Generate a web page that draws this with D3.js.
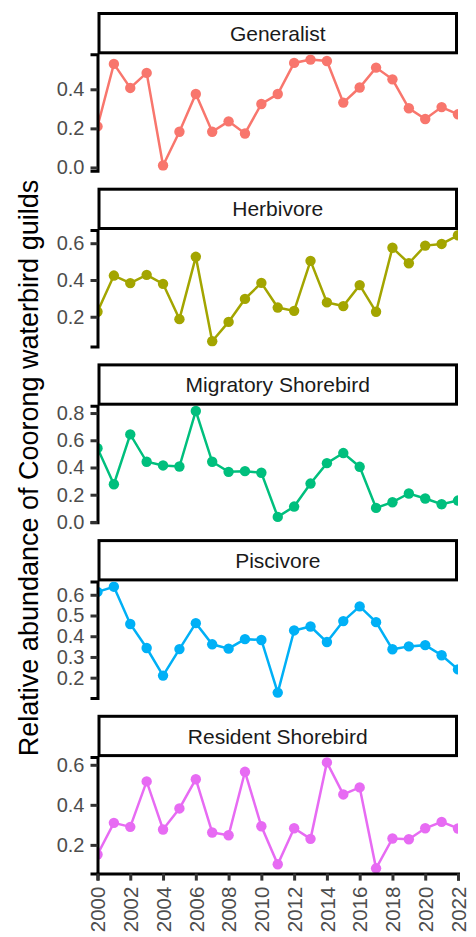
<!DOCTYPE html>
<html>
<head>
<meta charset="utf-8">
<script src="https://cdn.jsdelivr.net/npm/d3@7.9.0/dist/d3.min.js"></script>
<style>
  html, body { margin: 0; padding: 0; background: #fff; }
  svg { display: block; font-family: "Liberation Sans", Arial, Helvetica, sans-serif; }
</style>
</head>
<body>
<div id="chart"></div>
<script>
const years = d3.range(2000, 2023);
const guilds = ['Generalist', 'Herbivore', 'Migratory Shorebird', 'Piscivore', 'Resident Shorebird'];
const colors = ['#F8766D', '#A3A500', '#00BF7D', '#00B0F6', '#E76BF3'];

const generalist = [0.210, 0.530, 0.407, 0.484, 0.010, 0.183, 0.376, 0.183, 0.236, 0.174, 0.325, 0.376,
                    0.535, 0.552, 0.545, 0.332, 0.409, 0.511, 0.451, 0.303, 0.248, 0.309, 0.272];
const herbivore = [0.227, 0.424, 0.383, 0.428, 0.379, 0.187, 0.526, 0.067, 0.172, 0.297, 0.384, 0.250,
                   0.232, 0.504, 0.278, 0.258, 0.372, 0.227, 0.575, 0.491, 0.587, 0.596, 0.643];
const migratory = [0.542, 0.277, 0.643, 0.442, 0.415, 0.407, 0.815, 0.442, 0.368, 0.373, 0.361, 0.037,
                   0.113, 0.282, 0.432, 0.506, 0.405, 0.103, 0.145, 0.209, 0.172, 0.130, 0.157];
const piscivore = [0.614, 0.639, 0.459, 0.343, 0.210, 0.338, 0.463, 0.361, 0.340, 0.386, 0.382, 0.128,
                   0.428, 0.447, 0.372, 0.473, 0.544, 0.468, 0.337, 0.351, 0.357, 0.308, 0.240];
const resident = [0.152, 0.310, 0.290, 0.517, 0.277, 0.382, 0.528, 0.262, 0.248, 0.565, 0.293, 0.103,
                  0.283, 0.230, 0.612, 0.452, 0.487, 0.083, 0.232, 0.228, 0.283, 0.315, 0.282];
const series = [generalist, herbivore, migratory, piscivore, resident];

const yTicks = [
  [0, 0.2, 0.4],
  [0.2, 0.4, 0.6],
  [0, 0.2, 0.4, 0.6, 0.8],
  [0.2, 0.3, 0.4, 0.5, 0.6],
  [0.2, 0.4, 0.6]
];
const xTicks = d3.range(2000, 2023, 2);
const yTitle = 'Relative abundance of Coorong waterbird guilds';

const W = 476, H = 937;
const left = 97.5, right = 458;
const top0 = 12, pitch = 175.7, stripH = 42.3, panelH = 116.5;
const font = '"Liberation Sans", Arial, sans-serif';

const svg = d3.select('#chart').append('svg')
  .attr('width', W).attr('height', H);

const x = d3.scaleLinear().domain([2000, 2022]).range([left, right]);

guilds.forEach((name, i) => {
  const vals = series[i];
  const data = years.map((yr, j) => ({ year: yr, value: vals[j] }));
  const st = top0 + i * pitch;
  const pTop = st + stripH, pBot = pTop + panelH;

  // ggplot-style 5% expansion on y
  const [lo, hi] = d3.extent(vals);
  const pad = (hi - lo) * 0.05;
  const y = d3.scaleLinear().domain([lo - pad, hi + pad]).range([pBot, pTop]);

  // strip
  svg.append('rect')
    .attr('x', left + 1.5).attr('y', st + 1.5)
    .attr('width', right - left - 3).attr('height', stripH - 3)
    .attr('fill', '#fff').attr('stroke', '#000').attr('stroke-width', 3);
  svg.append('text')
    .attr('x', (left + right) / 2).attr('y', st + stripH / 2)
    .attr('dy', '0.36em').attr('text-anchor', 'middle')
    .attr('font-size', '21px').attr('fill', '#1a1a1a')
    .text(name);

  // clip to panel
  const cid = 'clip' + i;
  svg.append('clipPath').attr('id', cid).append('rect')
    .attr('x', left).attr('y', pTop).attr('width', right - left).attr('height', panelH);

  const g = svg.append('g').attr('clip-path', `url(#${cid})`);
  const line = d3.line().x(d => x(d.year)).y(d => y(d.value));
  g.append('path').datum(data)
    .attr('fill', 'none').attr('stroke', colors[i]).attr('stroke-width', 2.5)
    .attr('d', line);
  g.selectAll('circle').data(data).join('circle')
    .attr('cx', d => x(d.year)).attr('cy', d => y(d.value))
    .attr('r', 5.2).attr('fill', colors[i]);

  // y axis
  const ax = svg.append('g').attr('transform', `translate(${left},0)`)
    .call(d3.axisLeft(y).tickValues(yTicks[i]).tickFormat(d3.format('.1f')).tickSizeOuter(0).tickSize(7).tickPadding(6));
  ax.select('.domain').attr('stroke', '#000').attr('stroke-width', 3);
  ax.selectAll('.tick line').attr('stroke', '#333').attr('stroke-width', 3);
  ax.selectAll('.tick text').attr('fill', '#4d4d4d').attr('font-size', '20px')
    .attr('font-family', font);

  if (i === guilds.length - 1) {
    const xa = svg.append('g').attr('transform', `translate(0,${pBot})`)
      .call(d3.axisBottom(x).tickValues(xTicks).tickFormat(d3.format('d')).tickSizeOuter(0).tickSize(7));
    xa.select('.domain').attr('stroke', '#000').attr('stroke-width', 3);
    xa.selectAll('.tick line').attr('stroke', '#333').attr('stroke-width', 3);
    xa.selectAll('.tick text')
      .attr('fill', '#4d4d4d').attr('font-size', '20.5px')
      .attr('font-family', font)
      .attr('text-anchor', 'end')
      .attr('transform', 'translate(0,13) rotate(-90)')
      .attr('x', 0).attr('y', 0).attr('dy', '0.35em');
  }
});

svg.append('text')
  .attr('transform', `translate(38,468) rotate(-90)`)
  .attr('text-anchor', 'middle')
  .attr('font-size', '27px').attr('fill', '#000')
  .text(yTitle);
</script>
</body>
</html>
